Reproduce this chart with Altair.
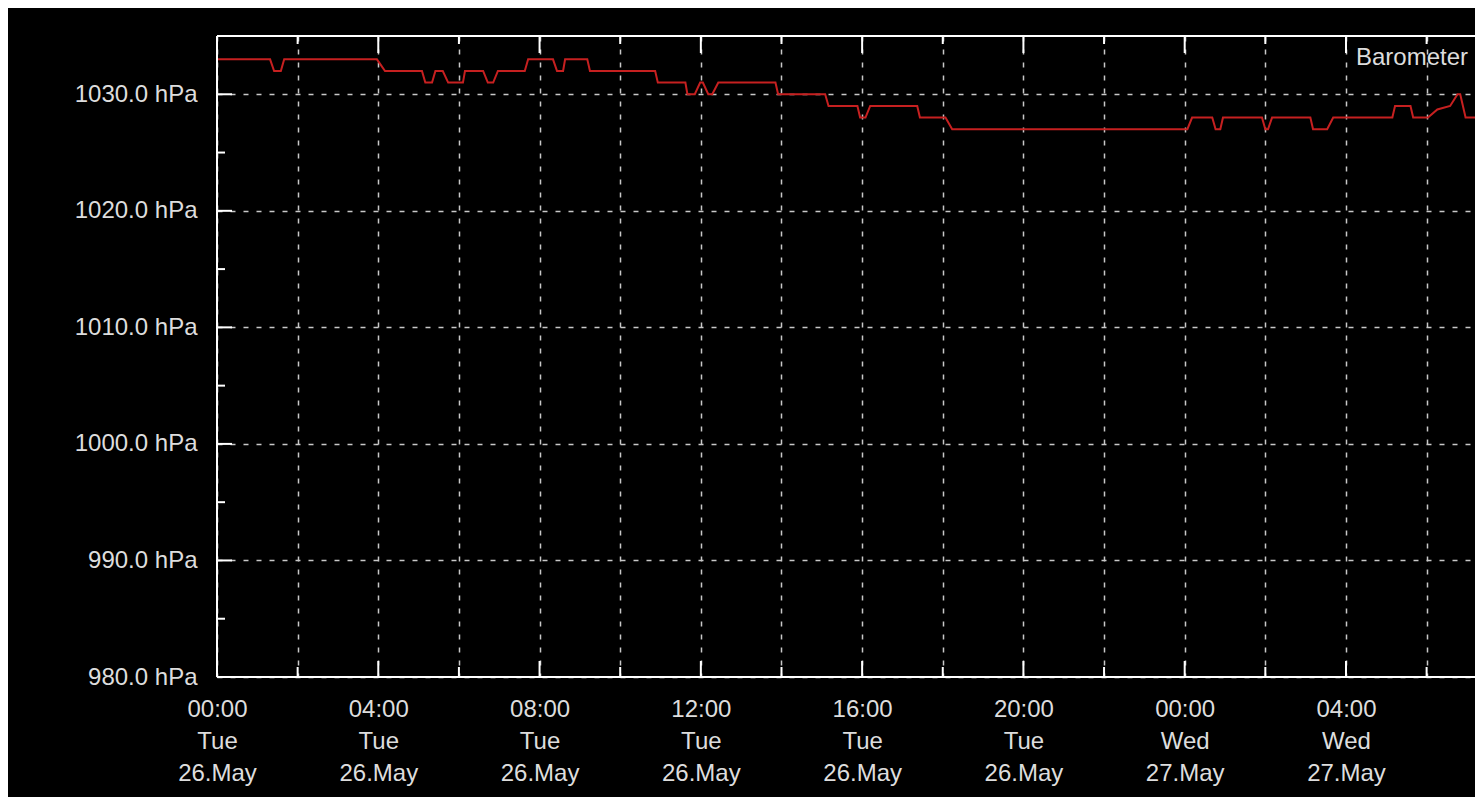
import altair as alt
import pandas as pd

# ---- data ----
series_name = "Barometer"

times = [
    "2020-05-26T00:00", "2020-05-26T01:19", "2020-05-26T01:25", "2020-05-26T01:35", "2020-05-26T01:40",
    "2020-05-26T03:58", "2020-05-26T04:10", "2020-05-26T05:05", "2020-05-26T05:10", "2020-05-26T05:20",
    "2020-05-26T05:25", "2020-05-26T05:36", "2020-05-26T05:44", "2020-05-26T06:06", "2020-05-26T06:09",
    "2020-05-26T06:36", "2020-05-26T06:43", "2020-05-26T06:51", "2020-05-26T06:58", "2020-05-26T07:38",
    "2020-05-26T07:43", "2020-05-26T08:20", "2020-05-26T08:26", "2020-05-26T08:35", "2020-05-26T08:38",
    "2020-05-26T09:11", "2020-05-26T09:15", "2020-05-26T10:52", "2020-05-26T10:56", "2020-05-26T11:37",
    "2020-05-26T11:40", "2020-05-26T11:51", "2020-05-26T11:59", "2020-05-26T12:03", "2020-05-26T12:11",
    "2020-05-26T12:17", "2020-05-26T12:26", "2020-05-26T13:51", "2020-05-26T13:55", "2020-05-26T15:05",
    "2020-05-26T15:10", "2020-05-26T15:53", "2020-05-26T15:57", "2020-05-26T16:05", "2020-05-26T16:12",
    "2020-05-26T17:22", "2020-05-26T17:26", "2020-05-26T18:04", "2020-05-26T18:14",
    "2020-05-27T00:04", "2020-05-27T00:11", "2020-05-27T00:41", "2020-05-27T00:46", "2020-05-27T00:53",
    "2020-05-27T00:57", "2020-05-27T01:55", "2020-05-27T02:00", "2020-05-27T02:04", "2020-05-27T02:10",
    "2020-05-27T03:07", "2020-05-27T03:11", "2020-05-27T03:32", "2020-05-27T03:41", "2020-05-27T05:09",
    "2020-05-27T05:13", "2020-05-27T05:36", "2020-05-27T05:40", "2020-05-27T06:02", "2020-05-27T06:16",
    "2020-05-27T06:35", "2020-05-27T06:46", "2020-05-27T06:50", "2020-05-27T06:58", "2020-05-27T08:30",
]
pressure = [
    1033, 1033, 1032, 1032, 1033,
    1033, 1032, 1032, 1031, 1031,
    1032, 1032, 1031, 1031, 1032,
    1032, 1031, 1031, 1032, 1032,
    1033, 1033, 1032, 1032, 1033,
    1033, 1032, 1032, 1031, 1031,
    1030, 1030, 1031, 1031, 1030,
    1030, 1031, 1031, 1030, 1030,
    1029, 1029, 1028, 1028, 1029,
    1029, 1028, 1028, 1027,
    1027, 1028, 1028, 1027, 1027,
    1028, 1028, 1027, 1027, 1028,
    1028, 1027, 1027, 1028, 1028,
    1029, 1029, 1028, 1028, 1028.7,
    1029, 1030, 1030, 1028, 1028,
]

# axis ticks / grid positions
x_grid_times = [
    "2020-05-26T00:00", "2020-05-26T02:00", "2020-05-26T04:00", "2020-05-26T06:00",
    "2020-05-26T08:00", "2020-05-26T10:00", "2020-05-26T12:00", "2020-05-26T14:00",
    "2020-05-26T16:00", "2020-05-26T18:00", "2020-05-26T20:00", "2020-05-26T22:00",
    "2020-05-27T00:00", "2020-05-27T02:00", "2020-05-27T04:00", "2020-05-27T06:00",
]
x_major_times = x_grid_times[0::2]
x_minor_times = x_grid_times[1::2]
y_major_values = [980, 990, 1000, 1010, 1020, 1030]
y_minor_values = [985, 995, 1005, 1015, 1025]

x_domain = ["2020-05-26T00:00", "2020-05-27T07:12"]
y_domain = [980, 1035]


def dt(s):
    d, t = s.split("T")
    y, m, dd = (int(v) for v in d.split("-"))
    hh, mm = (int(v) for v in t.split(":"))
    return alt.DateTime(year=y, month=m, date=dd, hours=hh, minutes=mm)


# ---- styling ----
FONT = "Liberation Sans"
TXT = "#dddddd"
W, H = 1258, 641

df_line = pd.DataFrame({"time": times, "value": pressure})
df_xmaj = pd.DataFrame({"time": x_major_times})
df_xmin = pd.DataFrame({"time": x_minor_times})
df_ymaj = pd.DataFrame({"value": y_major_values})
df_ymin = pd.DataFrame({"value": y_minor_values})
df_lbl = pd.DataFrame({"name": [series_name]})
df_one = pd.DataFrame({"k": [0]})

xscale = alt.Scale(domain=[dt(v) for v in x_domain], nice=False)
yscale = alt.Scale(domain=y_domain, nice=False, zero=False)

x_label_expr = (
    "hours(datum.value) % 4 == 0 ? "
    "[timeFormat(datum.value, '%H:%M'), timeFormat(datum.value, '%a'), timeFormat(datum.value, '%d.%b')] : ''"
)

x_axis = alt.Axis(
    values=[dt(v) for v in x_grid_times],
    labelExpr=x_label_expr,
    title=None,
    labelLineHeight=32,
    labelPadding=20,
    labelOverlap=False,
    labelFlush=False,
    labelBaseline="top",
)
y_axis = alt.Axis(
    values=y_major_values,
    labelExpr="format(datum.value, '.1f') + ' hPa'",
    title=None,
    labelPadding=20,
    labelOverlap=False,
    labelFlush=False,
)

line = alt.Chart(df_line).mark_line(color="#c62020", strokeWidth=2, clip=True).encode(
    x=alt.X("time:T", scale=xscale, axis=x_axis),
    y=alt.Y("value:Q", scale=yscale, axis=y_axis),
)


def xticks(df, y0, y1):
    return alt.Chart(df).mark_rule(color="white", strokeWidth=2).encode(
        x=alt.X("time:T", scale=xscale, axis=x_axis),
        y=alt.value(y0),
        y2=alt.value(y1),
    )


def yticks(df, length):
    return alt.Chart(df).mark_rule(color="white", strokeWidth=2).encode(
        y=alt.Y("value:Q", scale=yscale, axis=y_axis),
        x=alt.value(0),
        x2=alt.value(length),
    )


def frame(x0, x1, y0, y1):
    return alt.Chart(df_one).mark_rule(color="white", strokeWidth=2).encode(
        x=alt.value(x0), x2=alt.value(x1), y=alt.value(y0), y2=alt.value(y1)
    )


label = alt.Chart(df_lbl).mark_text(
    align="right", baseline="middle", font=FONT, fontSize=24, color=TXT
).encode(text="name:N", x=alt.value(1251), y=alt.value(22))

chart = alt.layer(
    line,
    xticks(df_xmaj, H, H - 16),
    xticks(df_xmin, H, H - 10),
    xticks(df_xmaj, 0, 17),
    xticks(df_xmin, 0, 8),
    yticks(df_ymaj, 15),
    yticks(df_ymin, 8),
    frame(0, W + 2, 0, 0),
    frame(0, W + 2, H, H),
    frame(0, 0, 0, H),
    label,
).properties(
    width=W,
    height=H,
    autosize=alt.AutoSizeParams(type="none"),
    padding={"left": 209, "top": 28, "right": 0, "bottom": 120},
    background="black",
).configure_view(
    stroke=None
).configure_axis(
    labelFont=FONT,
    labelFontSize=24,
    labelColor=TXT,
    domain=False,
    ticks=False,
    tickSize=0,
    grid=True,
    gridColor="#c8c8c8",
    gridDash=[5, 8],
    gridWidth=1.5,
)

chart.save("out.html", embed_options={"renderer": "svg", "actions": False})
